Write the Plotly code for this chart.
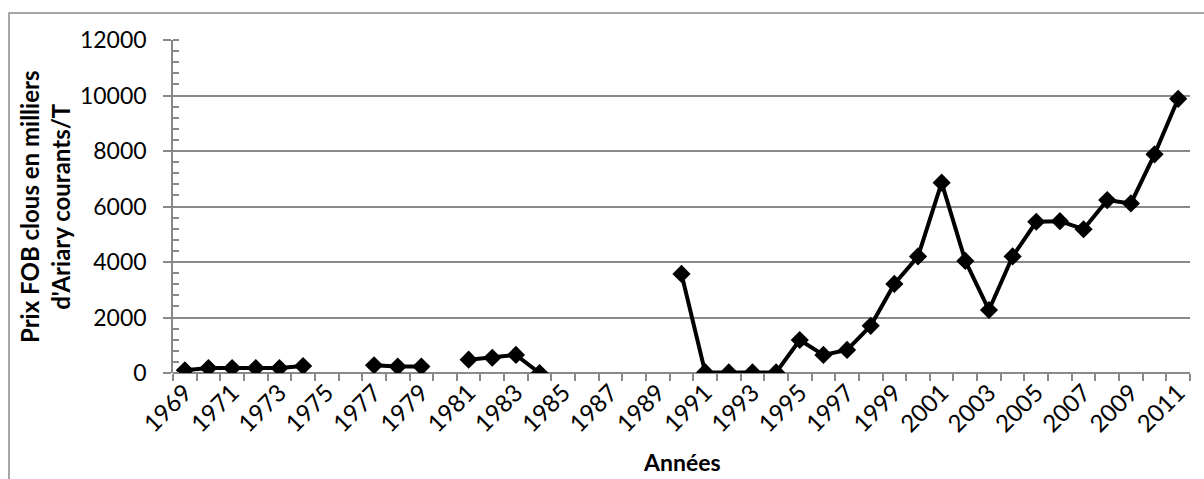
import plotly.graph_objects as go

years = list(range(1969, 2012))
prix = [100, 180, 180, 180, 180, 250, None, None, 280, 230, 230, None,
        480, 550, 650, 0, None, None, None, None, None, 3570, 30, 20, 20, 20,
        1190, 650, 830, 1700, 3210, 4200, 6860, 4040, 2270, 4200, 5450, 5470,
        5180, 6230, 6110, 7880, 9880]
tick_years = list(range(1969, 2012, 2))

W, H = 1204, 479
L, R, T, B = 173, 14, 40, 106
pw, ph = W - L - R, H - T - B
FONT = "Lato"
GRID = "#898989"

fig = go.Figure()
fig.add_trace(go.Scatter(
    x=years, y=prix, mode="lines+markers", connectgaps=False,
    line=dict(color="black", width=4),
    marker=dict(symbol="diamond", size=14, color="black"),
    showlegend=False,
))

fig.update_layout(
    width=W, height=H,
    margin=dict(l=L, r=R, t=T, b=B, autoexpand=False),
    paper_bgcolor="white", plot_bgcolor="white",
    font=dict(family=FONT, size=24, color="black"),
    xaxis=dict(
        range=[1968.5, 2011.5], automargin=False,
        tickmode="array", tickvals=tick_years, ticktext=[str(y) for y in tick_years],
        tickangle=-45, ticks="", showgrid=False, zeroline=False,
        showline=False,
        minor=dict(tickvals=[y + 0.5 for y in [1968] + years], ticks="outside",
                   ticklen=7, tickcolor=GRID, tickwidth=1.5, showgrid=False),
        tickfont=dict(size=24),
    ),
    yaxis=dict(
        range=[0, 12000], dtick=2000, tick0=0, tickformat="d", automargin=False,
        showgrid=True, gridcolor=GRID, gridwidth=1.5,
        zeroline=True, zerolinecolor=GRID, zerolinewidth=1.5,
        showline=True, linecolor=GRID, linewidth=1.5,
        ticks="outside", ticklen=8, tickcolor=GRID, tickwidth=1.5,
        minor=dict(dtick=400, tick0=0, ticks="inside", ticklen=6, tickcolor=GRID,
                   tickwidth=1.5, showgrid=False),
        tickfont=dict(size=23), ticklabelstandoff=12,
    ),
)

# axis titles as annotations
fig.add_annotation(
    text="<b>Prix FOB clous en milliers<br>d'Ariary courants/T</b>",
    xref="paper", yref="paper", x=(45 - L) / pw, y=1 - (207 - T) / ph,
    xanchor="center", yanchor="middle", textangle=-90, showarrow=False,
    font=dict(size=24, family=FONT), align="center",
)
fig.add_annotation(
    text="<b>Années</b>",
    xref="paper", yref="paper", x=0.5, y=-(462 - (H - B)) / ph,
    xanchor="center", yanchor="middle", showarrow=False,
    font=dict(size=23, family=FONT),
)

# outer chart border (cropped at right/bottom)
fig.add_shape(
    type="rect", xref="paper", yref="paper",
    x0=(9 - L) / pw, x1=(W + 5 - L) / pw,
    y0=-(H + 5 - (H - B)) / ph, y1=1 + (T - 13) / ph,
    line=dict(color=GRID, width=1.5), fillcolor="rgba(0,0,0,0)", layer="below",
)

fig.write_html("out.html", config={"displayModeBar": False},
               post_script="document.body.style.margin='0';")
